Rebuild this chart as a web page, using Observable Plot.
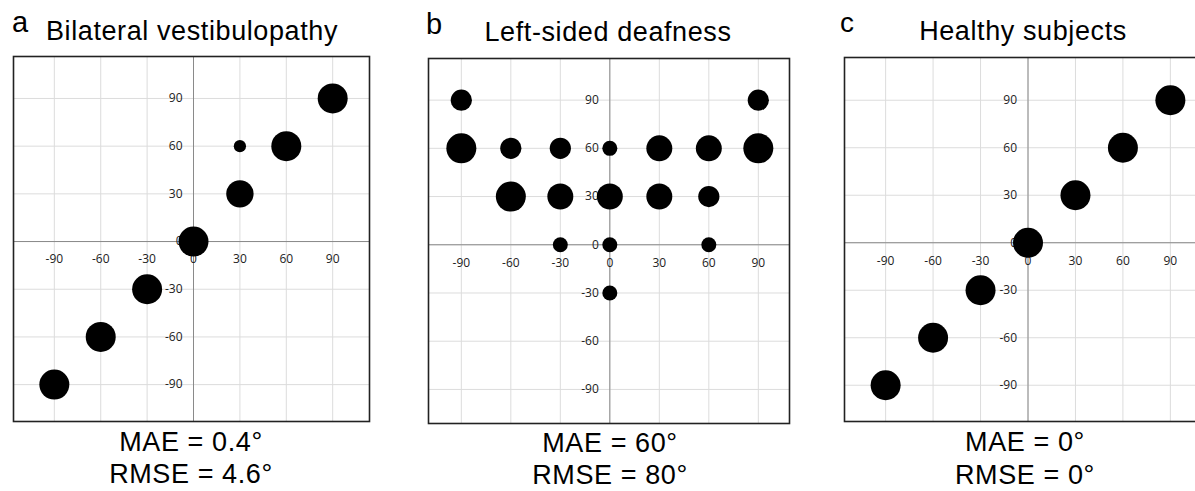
<!DOCTYPE html>
<html>
<head>
<meta charset="utf-8">
<script src="https://cdn.jsdelivr.net/npm/d3@7"></script>
<script src="https://cdn.jsdelivr.net/npm/@observablehq/plot@0.6"></script>
<style>
  html, body { margin: 0; padding: 0; background: #fff; }
  #root { position: relative; width: 1195px; height: 491px; overflow: hidden; background: #fff; }
  .lbl { position: absolute; font-family: "Liberation Sans", Arial, sans-serif; color: #000; white-space: nowrap; line-height: 1; }
  .ctr { transform: translateX(-50%); }
  .panel { position: absolute; }
  .panel svg { max-width: none !important; }
</style>
</head>
<body>
<div id="root"></div>
<script>
// ---- data ----
const ticks = [-90, -60, -30, 0, 30, 60, 90];

const titles = ["Bilateral vestibulopathy", "Left-sided deafness", "Healthy subjects"];
const letters = ["a", "b", "c"];
const maeText = ["MAE = 0.4°", "MAE = 60°", "MAE = 0°"];
const rmseText = ["RMSE = 4.6°", "RMSE = 80°", "RMSE = 0°"];

// panel a: actual angle (x), perceived angle (y), number of responses
const aX = [-90, -60, -30, 0, 30, 30, 60, 90];
const aY = [-90, -60, -30, 0, 30, 60, 60, 90];
const aN = [6, 6, 6, 6, 5, 1, 6, 6];

// panel b
const bX = [-90, -90, -60, -60, -30, -30, -30, 0, 0, 0, 0, 30, 30, 60, 60, 60, 90, 90];
const bY = [90, 60, 60, 30, 60, 30, 0, 60, 30, 0, -30, 60, 30, 60, 30, 0, 90, 60];
const bN = [2, 4, 2, 4, 2, 3, 1, 1, 3, 1, 1, 3, 3, 3, 2, 1, 2, 4];

// panel c
const cX = [-90, -60, -30, 0, 30, 60, 90];
const cY = [-90, -60, -30, 0, 30, 60, 90];
const cN = [6, 6, 6, 6, 6, 6, 6];

// ---- layout ----
const root = document.getElementById("root");
const M = 3;

const panels = [
  {X: aX, Y: aY, N: aN, left: 13, top: 56, w: 356, h: 365, xd: [-116.4, 113.8], yd: [-113.2, 116.4],
   letter: {x: 12, base: 34, size: 29}, title: {cx: 192, base: 42}, mae: {cx: 191, b1: 453, b2: 485}},
  {X: bX, Y: bY, N: bN, left: 428, top: 58, w: 361, h: 365, xd: [-109.9, 108.9], yd: [-111.2, 115.9],
   letter: {x: 426, base: 36, size: 29}, title: {cx: 608, base: 43}, mae: {cx: 610, b1: 454, b2: 486}},
  {X: cX, Y: cY, N: cN, left: 844, top: 57, w: 367, h: 364, xd: [-116, 116], yd: [-112.9, 117],
   letter: {x: 840, base: 34, size: 28}, title: {cx: 1023, base: 42}, mae: {cx: 1025, b1: 453, b2: 486}}
];

function addText(txt, x, base, size, center) {
  const d = document.createElement("div");
  d.className = "lbl" + (center ? " ctr" : "");
  d.textContent = txt;
  d.style.fontSize = size + "px";
  d.style.left = x + "px";
  // approximate baseline placement: top = baseline - ascent(~0.905em)
  d.style.top = (base - 0.905 * size) + "px";
  d.style.letterSpacing = center ? "0.6px" : "0";
  root.appendChild(d);
  return d;
}

panels.forEach((p, i) => {
  const data = p.X.map((x, k) => ({x, y: p.Y[k], n: p.N[k]}));
  const maxN = d3.max(p.N);
  const chart = Plot.plot({
    width: p.w + 2 * M,
    height: p.h + 2 * M,
    margin: M,
    x: {domain: p.xd, axis: null},
    y: {domain: p.yd, axis: null},
    r: {type: "sqrt", domain: [0, maxN], range: [0, 15]},
    style: {background: "transparent", overflow: "visible"},
    marks: [
      Plot.ruleX(ticks, {x: d => d, stroke: "#dcdcdc", strokeWidth: 1}),
      Plot.ruleY(ticks, {y: d => d, stroke: "#dcdcdc", strokeWidth: 1}),
      Plot.ruleX([0], {x: d => d, stroke: "#8a8a8a", strokeWidth: 1}),
      Plot.ruleY([0], {y: d => d, stroke: "#8a8a8a", strokeWidth: 1}),
      Plot.text(ticks, {x: d => d, y: 0, dy: 18, text: d => String(d),
        fontSize: 12, fontFamily: "Open Sans", fill: "#222"}),
      Plot.text(ticks, {x: 0, y: d => d, dx: -11, text: d => String(d), textAnchor: "end",
        fontSize: 12, fontFamily: "Open Sans", fill: "#222"}),
      Plot.dot(data, {x: "x", y: "y", r: "n", fill: "black", stroke: "none"}),
      Plot.frame({stroke: "#222", strokeWidth: 1.6})
    ]
  });
  const holder = document.createElement("div");
  holder.className = "panel";
  holder.style.left = (p.left - M) + "px";
  holder.style.top = (p.top - M) + "px";
  holder.style.width = (p.w + 2 * M) + "px";
  holder.appendChild(chart);
  root.appendChild(holder);

  addText(letters[i], p.letter.x, p.letter.base, p.letter.size, false);
  addText(titles[i], p.title.cx, p.title.base, 27, true);
  addText(maeText[i], p.mae.cx, p.mae.b1, 27, true);
  addText(rmseText[i], p.mae.cx, p.mae.b2, 27, true);
});
</script>
</body>
</html>
